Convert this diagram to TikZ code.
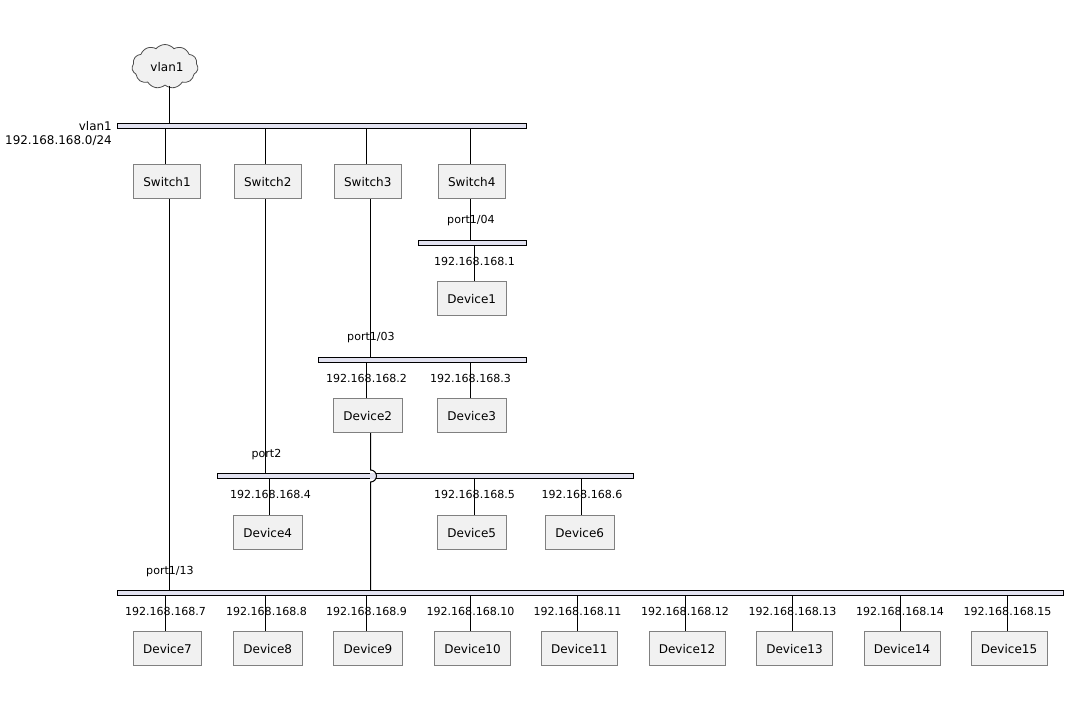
\documentclass[tikz,border=0pt]{standalone}
\usepackage{fontspec}
\setmainfont{DejaVu Sans}
\usetikzlibrary{shapes.symbols}
\newcommand{\boxat}[4]{% name, left, right, top ; height 34
  \node[devbox,minimum width={(#3-#2)*0.75pt}] (#1) at ({(#2+#3)/2},{#4+17}) {#1};}
\newcommand{\barat}[5]{% name,left,right,top,bottom
  \node[netbar,minimum width={(#3-#2)*0.75pt},minimum height={(#5-#4)*0.75pt}] (#1) at ({(#2+#3)/2},{(#4+#5)/2}) {};}
\newcommand{\link}[3]{% x, from, to
  \coordinate (linktop) at (#1,0);
  \draw[wire] (linktop |- #2) -- (linktop |- #3);}
\begin{document}
\begin{tikzpicture}[x=0.75pt,y=-0.75pt,
  devbox/.style={draw=black!50,fill=black!5.5,line width=0.75pt,minimum height=25.5pt,inner sep=0pt,text height=7.8pt,text depth=0.3pt,font=\fontsize{9pt}{10pt}\selectfont},
  netbar/.style={draw=black,fill=netfill,line width=0.75pt,inner sep=0pt,outer sep=0pt},
  wire/.style={draw=black,line width=0.75pt},
  addr/.style={inner sep=0pt,font=\fontsize{8.3pt}{10pt}\selectfont},
  netlabel/.style={inner sep=0pt,anchor=east,font=\fontsize{8.95pt}{10pt}\selectfont},
  cloudnode/.style={cloud,cloud puffs=11,cloud puff arc=100,aspect=1.5,draw=black!70,fill=black!5.5,line width=0.6pt,inner sep=0pt,minimum width=49.5pt,minimum height=33pt,text height=7.8pt,text depth=0.3pt,font=\fontsize{9pt}{10pt}\selectfont}]
\definecolor{netfill}{HTML}{E2E2F0}
\useasboundingbox (0,0) rectangle (1070,714);
\fill[white] (0,0) rectangle (1070,714);
% nodes
\node[cloudnode] (vlan1) at (165,66.5) {\hspace{3pt}vlan1};
\barat{netA}{117.5}{526}{123.5}{128.5}
\barat{netB}{418.5}{526}{240.5}{245.5}
\barat{netC}{318.5}{526}{357.5}{362.5}
\barat{netD}{217.5}{633}{473.5}{478.5}
\barat{netE}{117.5}{1063.5}{590.5}{595.5}
\boxat{Switch1}{133.5}{200.5}{164.5}
\boxat{Switch2}{234.5}{301}{164.5}
\boxat{Switch3}{334.5}{401}{164.5}
\boxat{Switch4}{438.5}{505}{164.5}
\boxat{Device1}{437.5}{506}{281.5}
\boxat{Device2}{333.5}{402}{398.5}
\boxat{Device3}{437.5}{506}{398.5}
\boxat{Device4}{233.5}{302}{515.5}
\boxat{Device5}{437.5}{506}{515.5}
\boxat{Device6}{545.5}{614}{515.5}
\boxat{Device7}{133.5}{201.5}{631}
\boxat{Device8}{233.5}{302}{631}
\boxat{Device9}{333.5}{402.5}{631}
\boxat{Device10}{434.5}{510.5}{631}
\boxat{Device11}{541.5}{617}{631}
\boxat{Device12}{649}{725}{631}
\boxat{Device13}{756.5}{832.5}{631}
\boxat{Device14}{864}{940}{631}
\boxat{Device15}{971}{1047}{631}
% connectors
\link{169}{vlan1.south}{netA.north}
\link{165.5}{netA.south}{Switch1.north}
\link{265.5}{netA.south}{Switch2.north}
\link{366}{netA.south}{Switch3.north}
\link{470.5}{netA.south}{Switch4.north}
\link{470.5}{Switch4.south}{netB.north}
\link{474.5}{netB.south}{Device1.north}
\link{370.5}{Switch3.south}{netC.north}
\link{366}{netC.south}{Device2.north}
\link{470.5}{netC.south}{Device3.north}
\link{265.5}{Switch2.south}{netD.north}
\link{269.5}{netD.south}{Device4.north}
\link{474.5}{netD.south}{Device5.north}
\link{581.5}{netD.south}{Device6.north}
\link{169}{Switch1.south}{netE.north}
% Device2 to netE, hopping over netD
\coordinate (hopx) at (370.5,0);
\coordinate (hopa) at (370.5,470);
\fill[netfill] (370.2,473) rectangle (375.6,479);
\draw[wire] (hopx |- Device2.south) -- (hopa) arc[start angle=-90,end angle=90,radius=6] -- (hopx |- netE.north);
\link{165.5}{netE.south}{Device7.north}
\link{265.5}{netE.south}{Device8.north}
\link{366}{netE.south}{Device9.north}
\link{470.5}{netE.south}{Device10.north}
\link{577.5}{netE.south}{Device11.north}
\link{685}{netE.south}{Device12.north}
\link{792.5}{netE.south}{Device13.north}
\link{900}{netE.south}{Device14.north}
\link{1007.5}{netE.south}{Device15.north}
% labels
\node[netlabel] (lblA) at (112,126.5) {vlan1};
\node[netlabel] (lblAa) at (112,141) {192.168.168.0/24};
\node[addr] (p4) at (471,221) {port1/04};
\node[addr] (p3) at (371,338) {port1/03};
\node[addr] (p2) at (266.5,454.5) {port2};
\node[addr] (p13) at (170,572) {port1/13};
\node[addr] (ip1) at (474.5,261) {192.168.168.1};
\node[addr] (ip2) at (366.5,378) {192.168.168.2};
\node[addr] (ip3) at (470.5,378) {192.168.168.3};
\node[addr] (ip4) at (270.5,494) {192.168.168.4};
\node[addr] (ip5) at (474.5,494) {192.168.168.5};
\node[addr] (ip6) at (582,494) {192.168.168.6};
\node[addr] (ip7) at (165.5,611) {192.168.168.7};
\node[addr] (ip8) at (266.5,611) {192.168.168.8};
\node[addr] (ip9) at (366.5,611) {192.168.168.9};
\node[addr] (ip10) at (470.5,611) {192.168.168.10};
\node[addr] (ip11) at (577.5,611) {192.168.168.11};
\node[addr] (ip12) at (685,611) {192.168.168.12};
\node[addr] (ip13) at (792.5,611) {192.168.168.13};
\node[addr] (ip14) at (900,611) {192.168.168.14};
\node[addr] (ip15) at (1007.5,611) {192.168.168.15};
\end{tikzpicture}
\end{document}
